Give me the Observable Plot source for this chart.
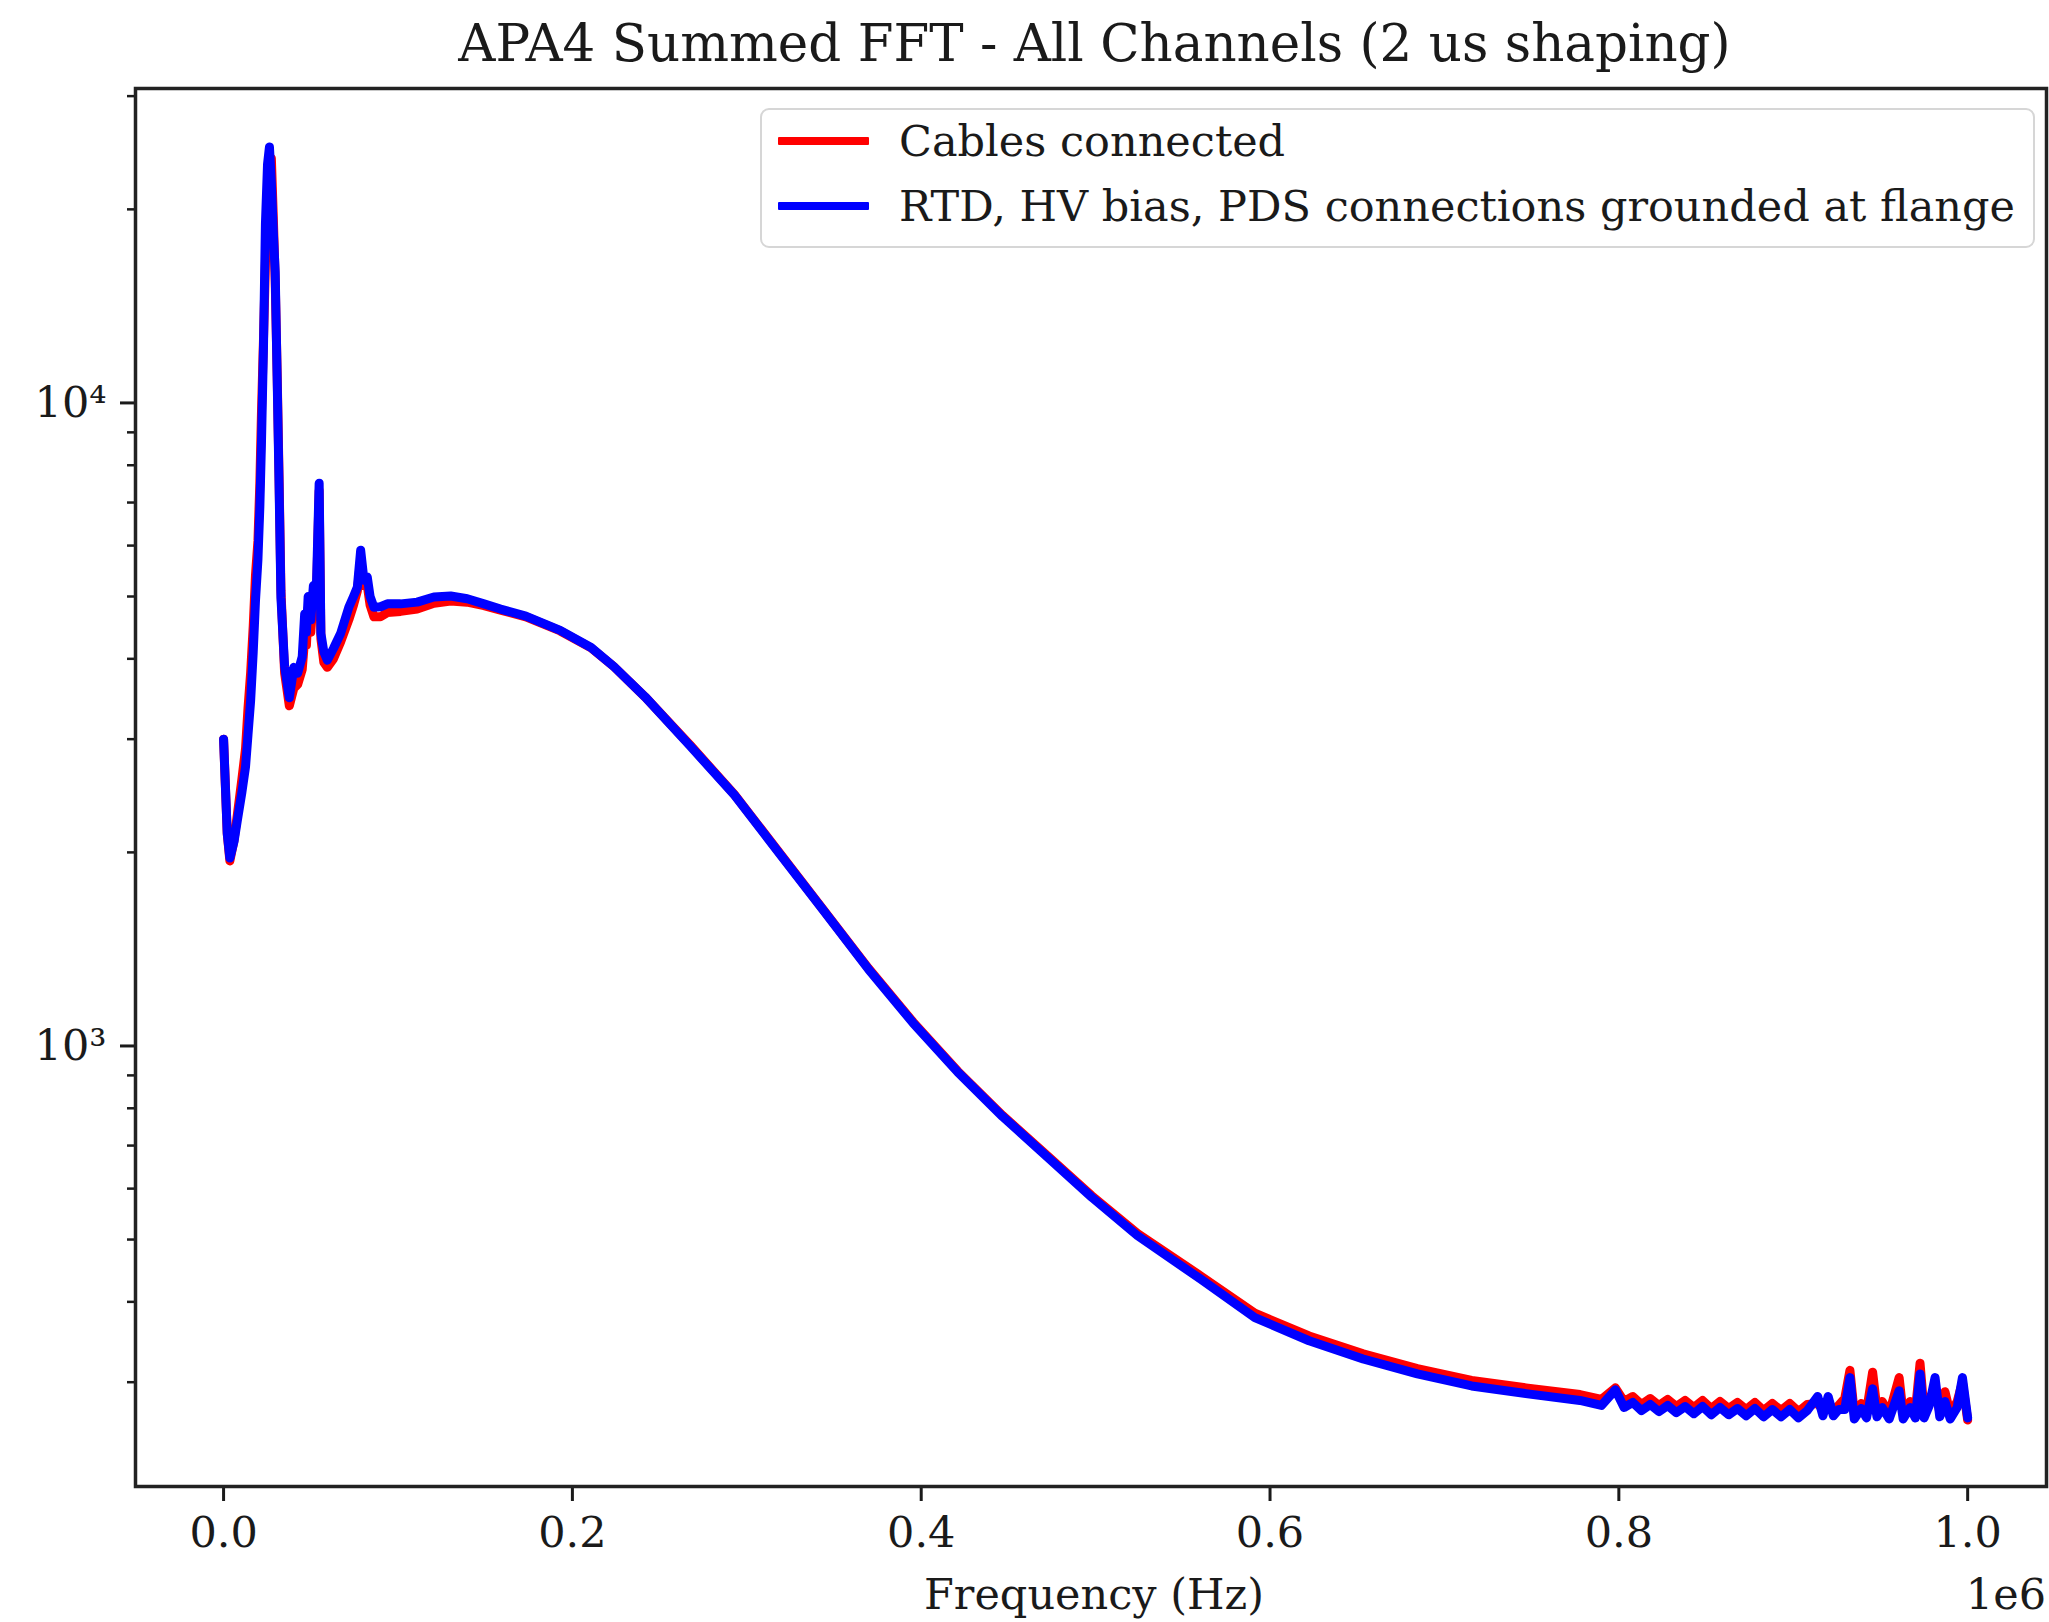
<!DOCTYPE html>
<html>
<head>
<meta charset="utf-8">
<script src="https://cdn.jsdelivr.net/npm/d3@7"></script>
<script src="https://cdn.jsdelivr.net/npm/@observablehq/plot@0.6"></script>
<style>
  body { margin: 0; background: #fff; }
  #wrap { position: relative; width: 2049px; height: 1622px; overflow: hidden;
          font-family: "DejaVu Serif", serif; color: #1a1a1a; background: #fff; }
  #title { height: 80px; font-size: 51.5px; line-height: 86px; text-align: center;
           white-space: nowrap; overflow: visible; padding-left: 140px; box-sizing: border-box; }
  #legend { position: absolute; left: 760px; top: 108px; width: 1275px; height: 140px;
            box-sizing: border-box; border: 2.5px solid #d6d6d6; border-radius: 9px;
            background: rgba(255,255,255,0.85); }
  .lg-line { position: absolute; left: 16px; width: 91px; height: 8px; border-radius: 1px; }
  .lg-text { position: absolute; left: 137px; font-size: 43px; line-height: 60px; white-space: nowrap; }
  #xlabel { position: absolute; left: 135px; width: 1918px; top: 1564px; font-size: 43px;
            line-height: 60px; text-align: center; white-space: nowrap; }
  #offset { position: absolute; left: 1846px; width: 200px; top: 1564px; font-size: 43px;
            line-height: 60px; text-align: right; white-space: nowrap; }
</style>
</head>
<body>
<div id="wrap">
  <div id="title"></div>
  <div id="chart"></div>
  <div id="legend"></div>
  <div id="xlabel"></div>
  <div id="offset"></div>
</div>
<script>
// ---- Text ----
const titleText = "APA4 Summed FFT - All Channels (2 us shaping)";
const xLabelText = "Frequency (Hz)";
const xOffsetText = "1e6";
const seriesNames = ["Cables connected", "RTD, HV bias, PDS connections grounded at flange"];
const seriesColors = ["#ff0000", "#0000ff"];

// ---- Ticks ----
const xTicks = [0, 200000, 400000, 600000, 800000, 1000000];
const xTickLabels = ["0.0", "0.2", "0.4", "0.6", "0.8", "1.0"];
const yMajorTicks = [1000, 10000];
const yMajorLabels = ["10\u00b3", "10\u2074"];
const yMinorTicks = [300, 400, 500, 600, 700, 800, 900, 2000, 3000, 4000, 5000, 6000, 7000, 8000, 9000, 20000, 30000];

// ---- Data ----
const freqHz = [
  0, 2100, 3600, 6000, 7900, 10500, 12600, 14000, 15500, 17000,
  18300, 19700, 20800, 21700, 22900, 24000, 25200, 26300, 27400, 28500,
  29600, 30700, 31800, 32900, 35000, 37700, 40300, 42500, 45100, 46500,
  47500, 48500, 50000, 51500, 53000, 54800, 55800, 57500, 59500, 63000,
  67100, 71800, 74500, 76700, 78600, 80500, 82400, 84000, 86200, 90000,
  93900, 101500, 111000, 120600, 130200, 139700, 149300, 158800, 173300, 193000,
  210700, 223800, 241700, 267400, 292900, 318600, 344200, 369800, 395300, 420900,
  446600, 472100, 497700, 524000, 560200, 591300, 622400, 653400, 684500, 715600,
  746700, 777700, 790000, 798000, 803000, 808000, 813000, 818000, 823000, 828000,
  833000, 838000, 843000, 848000, 853000, 858000, 863000, 868000, 873000, 878000,
  883000, 888000, 893000, 898000, 903000, 908000, 914000, 917000, 920000, 923000,
  926000, 929500, 932500, 935000, 939000, 942000, 945500, 948000, 951000, 955000,
  960700, 963000, 967000, 970000, 972700, 975000, 978000, 981300, 984000, 987000,
  990000, 994000, 997000, 1000000
];
const cablesConnected = [
  3000, 2140, 1940, 2090, 2290, 2600, 2900, 3350, 3800, 4500,
  5400, 6100, 7500, 9600, 12600, 16500, 21000, 23200, 24000, 19500,
  15500, 11200, 7700, 5100, 3800, 3380, 3600, 3650, 3850, 4300,
  4200, 4800, 4400, 5000, 4700, 7300, 4300, 3950, 3880, 4000,
  4250, 4600, 4850, 5100, 5700, 5200, 5200, 4850, 4650, 4650,
  4720, 4740, 4780, 4880, 4920, 4900, 4840, 4760, 4650, 4420,
  4160, 3890, 3490, 2940, 2460, 2000, 1625, 1320, 1090, 914,
  780, 676, 585, 511, 439, 384, 354, 332, 315, 302,
  294, 287, 282, 294, 280, 285, 277, 283, 276, 282,
  275, 281, 274, 281, 273, 280, 273, 279, 272, 279,
  271, 278, 271, 278, 270, 277, 278, 272, 276, 272,
  276, 283, 313, 268, 278, 270, 311, 272, 280, 268,
  305, 268, 280, 270, 321, 270, 284, 290, 270, 290,
  268, 280, 300, 262
];
const groundedAtFlange = [
  3000, 2140, 1960, 2080, 2244, 2480, 2720, 3050, 3440, 4100,
  4930, 5710, 6900, 8610, 12300, 19000, 23500, 25000, 22000, 18500,
  15960, 11010, 7500, 4975, 3890, 3480, 3880, 3800, 4030, 4700,
  4400, 5000, 4600, 5200, 4900, 7500, 4380, 4100, 3980, 4150,
  4380, 4810, 5000, 5170, 5900, 5300, 5360, 5000, 4810, 4820,
  4870, 4870, 4900, 4990, 5010, 4960, 4870, 4780, 4660, 4430,
  4165, 3890, 3490, 2930, 2456, 1994, 1622, 1316, 1086, 911,
  777, 673, 582, 507, 434, 378, 348, 326, 309, 296,
  288, 281, 276, 292, 274, 279, 271, 277, 270, 276,
  269, 275, 268, 275, 267, 274, 267, 273, 266, 273,
  265, 272, 265, 272, 264, 271, 285, 266, 285, 266,
  272, 272, 305, 263, 273, 264, 293, 265, 274, 263,
  291, 263, 274, 264, 309, 264, 276, 305, 265, 280,
  263, 274, 305, 264
];

// ---- Build tables ----
const cablesData = freqHz.map((f, i) => ({f, v: cablesConnected[i]}));
const groundedData = freqHz.map((f, i) => ({f, v: groundedAtFlange[i]}));
const xFmt = d => xTickLabels[xTicks.indexOf(+d)];
const yFmt = d => { const k = yMajorTicks.findIndex(t => Math.abs(t - d) < 1e-6 * t); return k < 0 ? "" : yMajorLabels[k]; };

const chart = Plot.plot({
  width: 2049,
  height: 1542,
  marginTop: 8,
  marginBottom: 136,
  marginLeft: 135,
  marginRight: 3,
  style: {fontFamily: "DejaVu Serif, serif", fontSize: "43px", color: "#1a1a1a", background: "#fff", overflow: "visible"},
  x: {type: "linear", domain: [-50500, 1045200]},
  y: {type: "log", domain: [206.5, 30830]},
  marks: [
    Plot.line(cablesData, {x: "f", y: "v", stroke: seriesColors[0], strokeWidth: 9}),
    Plot.line(groundedData, {x: "f", y: "v", stroke: seriesColors[1], strokeWidth: 9}),
    Plot.axisX({ticks: xTicks, tickFormat: xFmt, tickSize: 15, tickPadding: 15, strokeWidth: 3, label: null}),
    Plot.axisY({ticks: yMinorTicks, tickFormat: () => "", tickSize: 8, strokeWidth: 2.5, label: null}),
    Plot.axisY({ticks: yMajorTicks, tickFormat: yFmt, tickSize: 15, tickPadding: 14, strokeWidth: 3, label: null}),
    Plot.frame({stroke: "#222", strokeWidth: 3.5})
  ]
});
document.getElementById("chart").appendChild(chart);

document.getElementById("title").textContent = titleText;
document.getElementById("xlabel").textContent = xLabelText;
document.getElementById("offset").textContent = xOffsetText;

const legend = document.getElementById("legend");
const rowCenters = [31, 96];
seriesNames.forEach((name, i) => {
  const line = document.createElement("div");
  line.className = "lg-line";
  line.style.top = (rowCenters[i] - 4) + "px";
  line.style.background = seriesColors[i];
  legend.appendChild(line);
  const txt = document.createElement("div");
  txt.className = "lg-text";
  txt.style.top = (rowCenters[i] - 30) + "px";
  txt.textContent = name;
  legend.appendChild(txt);
});
</script>
</body>
</html>
